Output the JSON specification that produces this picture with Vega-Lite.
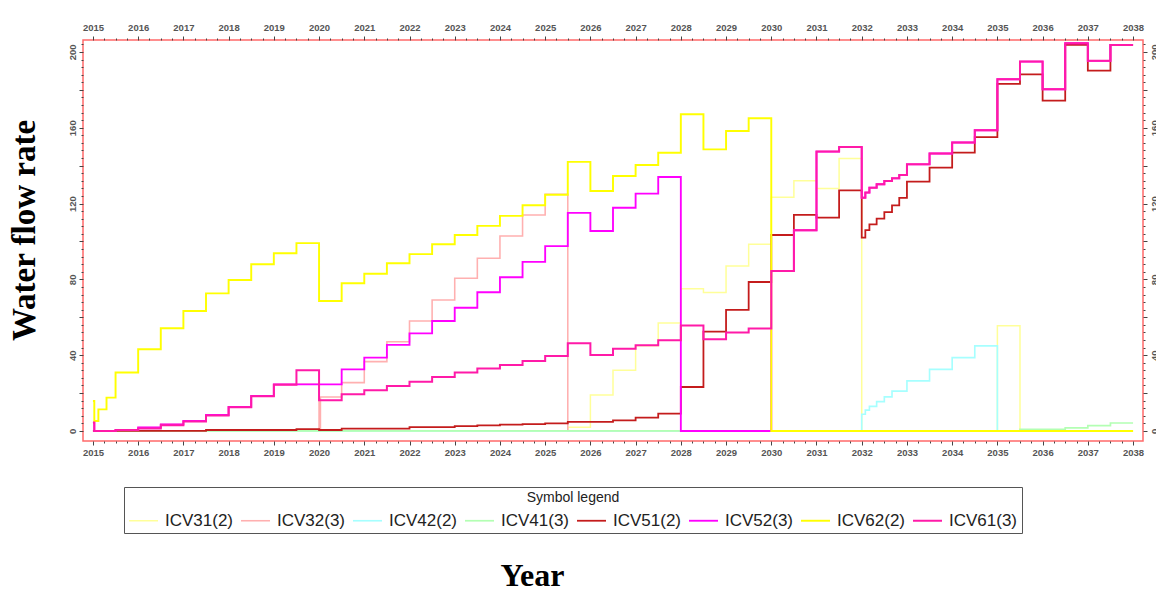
{
"$schema": "https://vega.github.io/schema/vega-lite/v6.json",
"width": 1060, "height": 401,
"autosize": {"type": "none"},
"padding": {"left": 83, "top": 40, "right": 13, "bottom": 150},
"background": "white",
"config": {
 "view": {"stroke": "#ff6a6a", "strokeWidth": 1.5},
 "axis": {"domain": false, "grid": false, "labelFont": "Liberation Sans", "labelFontSize": 9.5, "labelFontWeight": "bold", "labelColor": "#555", "tickColor": "#444", "tickWidth": 1, "labelOverlap": false, "labelBound": false, "labelFlush": false}
},
"data": {"values": [
{"series":"ICV31(2)","year":2015,"rate":0},{"series":"ICV31(2)","year":2025.5,"rate":2},{"series":"ICV31(2)","year":2026,"rate":19},{"series":"ICV31(2)","year":2026.5,"rate":32},{"series":"ICV31(2)","year":2027,"rate":45},{"series":"ICV31(2)","year":2027.5,"rate":57},{"series":"ICV31(2)","year":2028,"rate":75},{"series":"ICV31(2)","year":2028.5,"rate":73},{"series":"ICV31(2)","year":2029,"rate":87},{"series":"ICV31(2)","year":2029.5,"rate":98.5},{"series":"ICV31(2)","year":2030,"rate":123.3},{"series":"ICV31(2)","year":2030.5,"rate":132},{"series":"ICV31(2)","year":2031,"rate":128},{"series":"ICV31(2)","year":2031.5,"rate":143.8},{"series":"ICV31(2)","year":2032,"rate":0},{"series":"ICV31(2)","year":2035,"rate":55.5},{"series":"ICV31(2)","year":2035.5,"rate":0},{"series":"ICV31(2)","year":2038,"rate":0},

{"series":"ICV32(3)","year":2015,"rate":0},{"series":"ICV32(3)","year":2015.5,"rate":0.5},{"series":"ICV32(3)","year":2016,"rate":1.8},{"series":"ICV32(3)","year":2016.5,"rate":3.5},{"series":"ICV32(3)","year":2017,"rate":5.3},{"series":"ICV32(3)","year":2017.5,"rate":8.4},{"series":"ICV32(3)","year":2018,"rate":12.7},{"series":"ICV32(3)","year":2018.5,"rate":18.5},{"series":"ICV32(3)","year":2019,"rate":24.6},{"series":"ICV32(3)","year":2020,"rate":0},{"series":"ICV32(3)","year":2020.03,"rate":17.9},{"series":"ICV32(3)","year":2020.5,"rate":25.5},{"series":"ICV32(3)","year":2021,"rate":36.6},{"series":"ICV32(3)","year":2021.5,"rate":47.1},{"series":"ICV32(3)","year":2022,"rate":58},{"series":"ICV32(3)","year":2022.5,"rate":69.1},{"series":"ICV32(3)","year":2023,"rate":80.6},{"series":"ICV32(3)","year":2023.5,"rate":91.1},{"series":"ICV32(3)","year":2024,"rate":102.9},{"series":"ICV32(3)","year":2024.5,"rate":114},{"series":"ICV32(3)","year":2025,"rate":124.9},{"series":"ICV32(3)","year":2025.5,"rate":0},{"series":"ICV32(3)","year":2038,"rate":0},

{"series":"ICV42(2)","year":2015,"rate":0},{"series":"ICV42(2)","year":2032,"rate":8.8},{"series":"ICV42(2)","year":2032.08,"rate":11},{"series":"ICV42(2)","year":2032.17,"rate":13},{"series":"ICV42(2)","year":2032.33,"rate":15.5},{"series":"ICV42(2)","year":2032.5,"rate":18},{"series":"ICV42(2)","year":2032.67,"rate":21},{"series":"ICV42(2)","year":2033,"rate":26.4},{"series":"ICV42(2)","year":2033.5,"rate":32.5},{"series":"ICV42(2)","year":2034,"rate":38.7},{"series":"ICV42(2)","year":2034.5,"rate":44.9},{"series":"ICV42(2)","year":2035,"rate":0},{"series":"ICV42(2)","year":2038,"rate":0},

{"series":"ICV41(3)","year":2015,"rate":0},{"series":"ICV41(3)","year":2035.5,"rate":0.8},{"series":"ICV41(3)","year":2036.5,"rate":1.6},{"series":"ICV41(3)","year":2037,"rate":2.8},{"series":"ICV41(3)","year":2037.5,"rate":4.2},{"series":"ICV41(3)","year":2038,"rate":4.2},

{"series":"ICV51(2)","year":2015,"rate":0},{"series":"ICV51(2)","year":2017.5,"rate":0.5},{"series":"ICV51(2)","year":2019.5,"rate":1.0},{"series":"ICV51(2)","year":2020,"rate":0.5},{"series":"ICV51(2)","year":2020.5,"rate":1.2},{"series":"ICV51(2)","year":2022,"rate":2.0},{"series":"ICV51(2)","year":2023,"rate":2.5},{"series":"ICV51(2)","year":2023.5,"rate":3.0},{"series":"ICV51(2)","year":2024,"rate":3.3},{"series":"ICV51(2)","year":2024.5,"rate":3.6},{"series":"ICV51(2)","year":2025,"rate":4.0},{"series":"ICV51(2)","year":2025.5,"rate":4.8},{"series":"ICV51(2)","year":2026.5,"rate":5.6},{"series":"ICV51(2)","year":2027,"rate":7.0},{"series":"ICV51(2)","year":2027.5,"rate":9.1},{"series":"ICV51(2)","year":2028,"rate":23.2},{"series":"ICV51(2)","year":2028.5,"rate":52.4},{"series":"ICV51(2)","year":2029,"rate":63.9},{"series":"ICV51(2)","year":2029.5,"rate":78.6},{"series":"ICV51(2)","year":2030,"rate":103.4},{"series":"ICV51(2)","year":2030.5,"rate":114},{"series":"ICV51(2)","year":2031,"rate":112.6},{"series":"ICV51(2)","year":2031.5,"rate":127},{"series":"ICV51(2)","year":2032,"rate":102},{"series":"ICV51(2)","year":2032.08,"rate":106},{"series":"ICV51(2)","year":2032.17,"rate":109},{"series":"ICV51(2)","year":2032.33,"rate":112},{"series":"ICV51(2)","year":2032.5,"rate":115.5},{"series":"ICV51(2)","year":2032.67,"rate":119},{"series":"ICV51(2)","year":2032.83,"rate":123},{"series":"ICV51(2)","year":2033,"rate":131.6},{"series":"ICV51(2)","year":2033.5,"rate":139},{"series":"ICV51(2)","year":2034,"rate":146.9},{"series":"ICV51(2)","year":2034.5,"rate":155.1},{"series":"ICV51(2)","year":2035,"rate":183.1},{"series":"ICV51(2)","year":2035.5,"rate":188.2},{"series":"ICV51(2)","year":2036,"rate":174.3},{"series":"ICV51(2)","year":2036.5,"rate":203.7},{"series":"ICV51(2)","year":2037,"rate":190.1},{"series":"ICV51(2)","year":2037.5,"rate":203.7},{"series":"ICV51(2)","year":2038,"rate":203.7},

{"series":"ICV52(3)","year":2015,"rate":4.4},{"series":"ICV52(3)","year":2015.03,"rate":0},{"series":"ICV52(3)","year":2015.5,"rate":0.5},{"series":"ICV52(3)","year":2016,"rate":1.8},{"series":"ICV52(3)","year":2016.5,"rate":3.5},{"series":"ICV52(3)","year":2017,"rate":5.3},{"series":"ICV52(3)","year":2017.5,"rate":8.4},{"series":"ICV52(3)","year":2018,"rate":12.7},{"series":"ICV52(3)","year":2018.5,"rate":18.5},{"series":"ICV52(3)","year":2019,"rate":24.6},{"series":"ICV52(3)","year":2020.5,"rate":32.5},{"series":"ICV52(3)","year":2021,"rate":38.7},{"series":"ICV52(3)","year":2021.5,"rate":45.4},{"series":"ICV52(3)","year":2022,"rate":51.5},{"series":"ICV52(3)","year":2022.5,"rate":58},{"series":"ICV52(3)","year":2023,"rate":65},{"series":"ICV52(3)","year":2023.5,"rate":73.2},{"series":"ICV52(3)","year":2024,"rate":81.1},{"series":"ICV52(3)","year":2024.5,"rate":89.2},{"series":"ICV52(3)","year":2025,"rate":97.5},{"series":"ICV52(3)","year":2025.5,"rate":115.1},{"series":"ICV52(3)","year":2026,"rate":105.5},{"series":"ICV52(3)","year":2026.5,"rate":117.8},{"series":"ICV52(3)","year":2027,"rate":125.2},{"series":"ICV52(3)","year":2027.5,"rate":134},{"series":"ICV52(3)","year":2028,"rate":0},{"series":"ICV52(3)","year":2030,"rate":84.4},{"series":"ICV52(3)","year":2030.5,"rate":105.9},{"series":"ICV52(3)","year":2031,"rate":147.4},{"series":"ICV52(3)","year":2031.5,"rate":149.8},{"series":"ICV52(3)","year":2032,"rate":123.1},{"series":"ICV52(3)","year":2032.08,"rate":125.8},{"series":"ICV52(3)","year":2032.17,"rate":128.4},{"series":"ICV52(3)","year":2032.33,"rate":130.2},{"series":"ICV52(3)","year":2032.5,"rate":131.9},{"series":"ICV52(3)","year":2032.67,"rate":133.3},{"series":"ICV52(3)","year":2032.83,"rate":135},{"series":"ICV52(3)","year":2033,"rate":140.7},{"series":"ICV52(3)","year":2033.5,"rate":146.4},{"series":"ICV52(3)","year":2034,"rate":152.2},{"series":"ICV52(3)","year":2034.5,"rate":158.7},{"series":"ICV52(3)","year":2035,"rate":185.6},{"series":"ICV52(3)","year":2035.5,"rate":194.9},{"series":"ICV52(3)","year":2036,"rate":180.3},{"series":"ICV52(3)","year":2036.5,"rate":204.6},{"series":"ICV52(3)","year":2037,"rate":195.3},{"series":"ICV52(3)","year":2037.5,"rate":203.7},{"series":"ICV52(3)","year":2038,"rate":203.7},

{"series":"ICV62(2)","year":2015,"rate":15.8},{"series":"ICV62(2)","year":2015.03,"rate":5.3},{"series":"ICV62(2)","year":2015.12,"rate":11.4},{"series":"ICV62(2)","year":2015.3,"rate":17.6},{"series":"ICV62(2)","year":2015.5,"rate":30.8},{"series":"ICV62(2)","year":2016,"rate":43.1},{"series":"ICV62(2)","year":2016.5,"rate":54.2},{"series":"ICV62(2)","year":2017,"rate":63.3},{"series":"ICV62(2)","year":2017.5,"rate":72.6},{"series":"ICV62(2)","year":2018,"rate":79.7},{"series":"ICV62(2)","year":2018.5,"rate":88},{"series":"ICV62(2)","year":2019,"rate":93.8},{"series":"ICV62(2)","year":2019.5,"rate":99.1},{"series":"ICV62(2)","year":2020,"rate":68.6},{"series":"ICV62(2)","year":2020.5,"rate":77.9},{"series":"ICV62(2)","year":2021,"rate":83},{"series":"ICV62(2)","year":2021.5,"rate":88.5},{"series":"ICV62(2)","year":2022,"rate":93.3},{"series":"ICV62(2)","year":2022.5,"rate":98.5},{"series":"ICV62(2)","year":2023,"rate":103.4},{"series":"ICV62(2)","year":2023.5,"rate":108.2},{"series":"ICV62(2)","year":2024,"rate":113.5},{"series":"ICV62(2)","year":2024.5,"rate":119.1},{"series":"ICV62(2)","year":2025,"rate":124.6},{"series":"ICV62(2)","year":2025.5,"rate":142},{"series":"ICV62(2)","year":2026,"rate":126.6},{"series":"ICV62(2)","year":2026.5,"rate":134.5},{"series":"ICV62(2)","year":2027,"rate":140.3},{"series":"ICV62(2)","year":2027.5,"rate":146.8},{"series":"ICV62(2)","year":2028,"rate":167.1},{"series":"ICV62(2)","year":2028.5,"rate":148.6},{"series":"ICV62(2)","year":2029,"rate":158.3},{"series":"ICV62(2)","year":2029.5,"rate":165},{"series":"ICV62(2)","year":2030,"rate":0},{"series":"ICV62(2)","year":2038,"rate":0},

{"series":"ICV61(3)","year":2015,"rate":4.4},{"series":"ICV61(3)","year":2015.03,"rate":0},{"series":"ICV61(3)","year":2015.5,"rate":0.5},{"series":"ICV61(3)","year":2016,"rate":1.3},{"series":"ICV61(3)","year":2016.5,"rate":3.0},{"series":"ICV61(3)","year":2017,"rate":5.0},{"series":"ICV61(3)","year":2017.5,"rate":8.2},{"series":"ICV61(3)","year":2018,"rate":12.5},{"series":"ICV61(3)","year":2018.5,"rate":18.3},{"series":"ICV61(3)","year":2019,"rate":24.4},{"series":"ICV61(3)","year":2019.5,"rate":32.0},{"series":"ICV61(3)","year":2020,"rate":16.2},{"series":"ICV61(3)","year":2020.5,"rate":19.4},{"series":"ICV61(3)","year":2021,"rate":21.5},{"series":"ICV61(3)","year":2021.5,"rate":23.7},{"series":"ICV61(3)","year":2022,"rate":26},{"series":"ICV61(3)","year":2022.5,"rate":28.5},{"series":"ICV61(3)","year":2023,"rate":30.8},{"series":"ICV61(3)","year":2023.5,"rate":32.9},{"series":"ICV61(3)","year":2024,"rate":34.8},{"series":"ICV61(3)","year":2024.5,"rate":36.9},{"series":"ICV61(3)","year":2025,"rate":39.6},{"series":"ICV61(3)","year":2025.5,"rate":46.3},{"series":"ICV61(3)","year":2026,"rate":40.1},{"series":"ICV61(3)","year":2026.5,"rate":43.4},{"series":"ICV61(3)","year":2027,"rate":45.2},{"series":"ICV61(3)","year":2027.5,"rate":47.8},{"series":"ICV61(3)","year":2028,"rate":55.7},{"series":"ICV61(3)","year":2028.5,"rate":48.4},{"series":"ICV61(3)","year":2029,"rate":52},{"series":"ICV61(3)","year":2029.5,"rate":54.1},{"series":"ICV61(3)","year":2030,"rate":84.4},{"series":"ICV61(3)","year":2030.5,"rate":105.9},{"series":"ICV61(3)","year":2031,"rate":147.4},{"series":"ICV61(3)","year":2031.5,"rate":149.8},{"series":"ICV61(3)","year":2032,"rate":123.1},{"series":"ICV61(3)","year":2032.08,"rate":125.8},{"series":"ICV61(3)","year":2032.17,"rate":128.4},{"series":"ICV61(3)","year":2032.33,"rate":130.2},{"series":"ICV61(3)","year":2032.5,"rate":131.9},{"series":"ICV61(3)","year":2032.67,"rate":133.3},{"series":"ICV61(3)","year":2032.83,"rate":135},{"series":"ICV61(3)","year":2033,"rate":140.7},{"series":"ICV61(3)","year":2033.5,"rate":146.4},{"series":"ICV61(3)","year":2034,"rate":152.2},{"series":"ICV61(3)","year":2034.5,"rate":158.7},{"series":"ICV61(3)","year":2035,"rate":185.6},{"series":"ICV61(3)","year":2035.5,"rate":194.9},{"series":"ICV61(3)","year":2036,"rate":180.3},{"series":"ICV61(3)","year":2036.5,"rate":204.6},{"series":"ICV61(3)","year":2037,"rate":195.3},{"series":"ICV61(3)","year":2037.5,"rate":203.7},{"series":"ICV61(3)","year":2038,"rate":203.7}
]},
"layer": [
 {
  "mark": {"type": "line", "interpolate": "step-after", "strokeCap": "butt", "strokeJoin": "miter"},
  "encoding": {
   "x": {"field": "year", "type": "quantitative",
    "scale": {"domain": [2014.78, 2038.22], "nice": false, "zero": false},
    "axis": {"orient": "bottom",
     "values": [2015,2015.25,2015.5,2015.75,2016,2016.25,2016.5,2016.75,2017,2017.25,2017.5,2017.75,2018,2018.25,2018.5,2018.75,2019,2019.25,2019.5,2019.75,2020,2020.25,2020.5,2020.75,2021,2021.25,2021.5,2021.75,2022,2022.25,2022.5,2022.75,2023,2023.25,2023.5,2023.75,2024,2024.25,2024.5,2024.75,2025,2025.25,2025.5,2025.75,2026,2026.25,2026.5,2026.75,2027,2027.25,2027.5,2027.75,2028,2028.25,2028.5,2028.75,2029,2029.25,2029.5,2029.75,2030,2030.25,2030.5,2030.75,2031,2031.25,2031.5,2031.75,2032,2032.25,2032.5,2032.75,2033,2033.25,2033.5,2033.75,2034,2034.25,2034.5,2034.75,2035,2035.25,2035.5,2035.75,2036,2036.25,2036.5,2036.75,2037,2037.25,2037.5,2037.75,2038],
     "labelExpr": "datum.value % 1 === 0 ? '' + datum.value : ''",
     "tickSize": {"condition": {"test": "datum.value % 1 === 0", "value": 4}, "value": 2},
     "labelPadding": 2,
     "title": "Year", "titleFont": "Liberation Serif", "titleFontSize": 32, "titleFontWeight": "bold", "titleColor": "#000",
     "titleX": 449, "titleY": 144, "titleAlign": "center", "titleBaseline": "alphabetic"}},
   "y": {"field": "rate", "type": "quantitative",
    "scale": {"domain": [-5.3, 206.3], "nice": false, "zero": false},
    "axis": {"orient": "left",
     "values": [0,4,8,12,16,20,24,28,32,36,40,44,48,52,56,60,64,68,72,76,80,84,88,92,96,100,104,108,112,116,120,124,128,132,136,140,144,148,152,156,160,164,168,172,176,180,184,188,192,196,200,204],
     "labelExpr": "datum.value % 40 === 0 ? '' + datum.value : ''",
     "tickSize": {"condition": {"test": "datum.value % 20 === 0", "value": 4}, "value": 2},
     "labelAngle": -90, "labelAlign": "center", "labelBaseline": "bottom", "labelPadding": 2,
     "title": "Water flow rate", "titleFont": "Liberation Serif", "titleFontSize": 33, "titleFontWeight": "bold", "titleColor": "#000",
     "titleAngle": -90, "titleX": -59, "titleY": 190, "titleAlign": "center", "titleBaseline": "middle"}},
   "color": {"field": "series", "type": "nominal",
    "scale": {"domain": ["ICV31(2)","ICV32(3)","ICV42(2)","ICV41(3)","ICV51(2)","ICV52(3)","ICV62(2)","ICV61(3)"],
              "range": ["#ffff99","#ffb0b0","#a6ffff","#b3ffb3","#c41c1c","#ff00ff","#ffff00","#ff1aa8"]},
    "legend": {"title": "Symbol legend", "orient": "none", "legendX": 41, "legendY": 447, "direction": "horizontal", "columns": 8,
     "symbolType": "stroke", "symbolSize": 841, "symbolStrokeWidth": 2.5, "symbolOpacity": 1,
     "labelFont": "Liberation Sans", "labelFontSize": 17, "labelColor": "#222", "labelOffset": 6, "labelLimit": 0,
     "columnPadding": 3,
     "titleFont": "Liberation Sans", "titleFontSize": 14, "titleFontWeight": "normal", "titleColor": "#222", "titleAnchor": "middle", "titlePadding": 0,
     "padding": 4, "strokeColor": "#555", "fillColor": "white"}},
   "strokeWidth": {"field": "series", "type": "nominal",
    "scale": {"domain": ["ICV31(2)","ICV32(3)","ICV42(2)","ICV41(3)","ICV51(2)","ICV52(3)","ICV62(2)","ICV61(3)"],
              "range": [1.5, 2, 2, 2, 2.5, 3, 3, 2.5]},
    "legend": null}
  }
 },
 {
  "mark": {"type": "line", "opacity": 0},
  "encoding": {
   "x": {"field": "year", "type": "quantitative",
    "scale": {"domain": [2014.78, 2038.22], "nice": false, "zero": false},
    "axis": {"orient": "top",
     "values": [2015,2015.25,2015.5,2015.75,2016,2016.25,2016.5,2016.75,2017,2017.25,2017.5,2017.75,2018,2018.25,2018.5,2018.75,2019,2019.25,2019.5,2019.75,2020,2020.25,2020.5,2020.75,2021,2021.25,2021.5,2021.75,2022,2022.25,2022.5,2022.75,2023,2023.25,2023.5,2023.75,2024,2024.25,2024.5,2024.75,2025,2025.25,2025.5,2025.75,2026,2026.25,2026.5,2026.75,2027,2027.25,2027.5,2027.75,2028,2028.25,2028.5,2028.75,2029,2029.25,2029.5,2029.75,2030,2030.25,2030.5,2030.75,2031,2031.25,2031.5,2031.75,2032,2032.25,2032.5,2032.75,2033,2033.25,2033.5,2033.75,2034,2034.25,2034.5,2034.75,2035,2035.25,2035.5,2035.75,2036,2036.25,2036.5,2036.75,2037,2037.25,2037.5,2037.75,2038],
     "labelExpr": "datum.value % 1 === 0 ? '' + datum.value : ''",
     "tickSize": {"condition": {"test": "datum.value % 1 === 0", "value": 4}, "value": 2},
     "labelPadding": 4, "title": null}},
   "y": {"field": "rate", "type": "quantitative",
    "scale": {"domain": [-5.3, 206.3], "nice": false, "zero": false},
    "axis": {"orient": "right",
     "values": [0,4,8,12,16,20,24,28,32,36,40,44,48,52,56,60,64,68,72,76,80,84,88,92,96,100,104,108,112,116,120,124,128,132,136,140,144,148,152,156,160,164,168,172,176,180,184,188,192,196,200,204],
     "labelExpr": "datum.value % 40 === 0 ? '' + datum.value : ''",
     "tickSize": {"condition": {"test": "datum.value % 20 === 0", "value": 4}, "value": 2},
     "labelAngle": -90, "labelAlign": "center", "labelBaseline": "top", "labelPadding": 2,
     "title": null}},
   "detail": {"field": "series", "type": "nominal"}
  }
 }
],
"resolve": {"axis": {"x": "independent", "y": "independent"}}
}
